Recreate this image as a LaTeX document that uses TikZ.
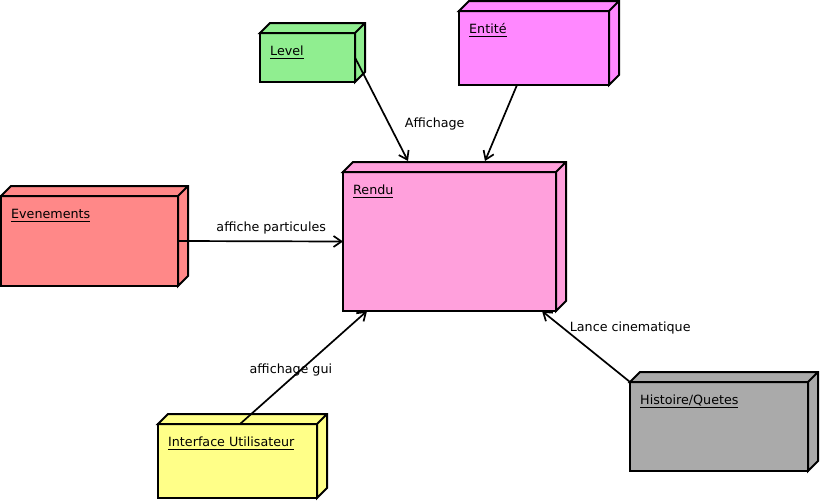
\documentclass[tikz,border=0pt]{standalone}
\usepackage{fontspec}
\setmainfont{DejaVu Sans}
\usetikzlibrary{positioning,arrows.meta}

\definecolor{vertlevel}{RGB}{144,238,144}
\definecolor{roseentite}{RGB}{255,136,255}
\definecolor{roserendu}{RGB}{255,160,220}
\definecolor{rougeevt}{RGB}{255,136,136}
\definecolor{jauneui}{RGB}{255,255,136}
\definecolor{grisquete}{RGB}{170,170,170}

\newsavebox\soulbox
\newcommand{\souligne}[1]{\sbox\soulbox{#1}\rlap{\rule[-3.5pt]{\wd\soulbox}{1pt}}\usebox\soulbox}

\tikzset{
  boite/.style={draw, line width=2pt, anchor=north west, outer sep=0pt, inner sep=0pt},
  nom/.style={anchor=base west, inner sep=0pt, xshift=10pt, yshift=-22pt},
  lien/.style={line width=1.7pt, ->},
  txtlien/.style={inner sep=0pt}
}

\begin{document}
\begin{tikzpicture}[x=1pt, y=-1pt, >={Straight Barb[length=8pt,width=11pt]},
                    font=\fontsize{12.7pt}{15pt}\selectfont]
      \useasboundingbox (0,0) rectangle (820,501);
      % les noeuds (face avant)
      \node (level) [boite, fill=vertlevel, minimum width=95pt, minimum height=49pt,
            label={[nom]north west:\souligne{Level}}] at (260,33) {};
      \node (entite) [boite, fill=roseentite, minimum width=150pt, minimum height=74pt,
            label={[nom]north west:\souligne{Entité}}] at (459,11) {};
      \node (rendu) [boite, fill=roserendu, minimum width=213pt, minimum height=139pt,
            label={[nom]north west:\souligne{Rendu}}] at (343,172) {};
      \node (evenements) [boite, fill=rougeevt, minimum width=177pt, minimum height=90pt,
            label={[nom]north west:\souligne{Evenements}}] at (1,196) {};
      \node (interface) [boite, fill=jauneui, minimum width=159pt, minimum height=74pt,
            label={[nom]north west:\souligne{Interface Utilisateur}}] at (158,424) {};
      \node (histoire) [boite, fill=grisquete, minimum width=178pt, minimum height=89pt,
            label={[nom]north west:\souligne{Histoire/Quetes}}] at (630,382) {};
      % les faces du dessus et de cote
      \foreach \n/\c in {level/vertlevel, entite/roseentite, rendu/roserendu,
                         evenements/rougeevt, interface/jauneui, histoire/grisquete}
            \draw[line width=2pt, fill=\c] (\n.north west) -- ++(10,-10)
                  -- ([shift={(10,-10)}]\n.north east) -- ([shift={(10,-10)}]\n.south east)
                  -- (\n.south east) -- (\n.north east) -- cycle
                  (\n.north east) -- ++(10,-10);
      % les liens
      \draw[lien] (level.east) -- ([shift={(65,-11)}]rendu.north west)
            node (affichage) [txtlien, pos=.68, anchor=base west, xshift=13pt] {Affichage};
      \draw[lien] ([xshift=-17pt]entite.south) -- ([shift={(142,-11)}]rendu.north west);
      \draw[lien] (evenements.east) -- (rendu.west)
            node (particules) [txtlien, pos=.565, above=6pt] {affiche particules};
      \draw[lien] ([xshift=2.5pt]interface.north) -- ([xshift=24pt]rendu.south west)
            node (gui) [txtlien, pos=.46, anchor=base, xshift=-7.5pt, yshift=-1.5pt] {affichage gui};
      \draw[lien] (histoire.north west) -- ([xshift=-14pt]rendu.south east)
            node (cinematique) [txtlien, pos=.71, anchor=base west, xshift=1.5pt] {Lance cinematique};
\end{tikzpicture}
\end{document}
